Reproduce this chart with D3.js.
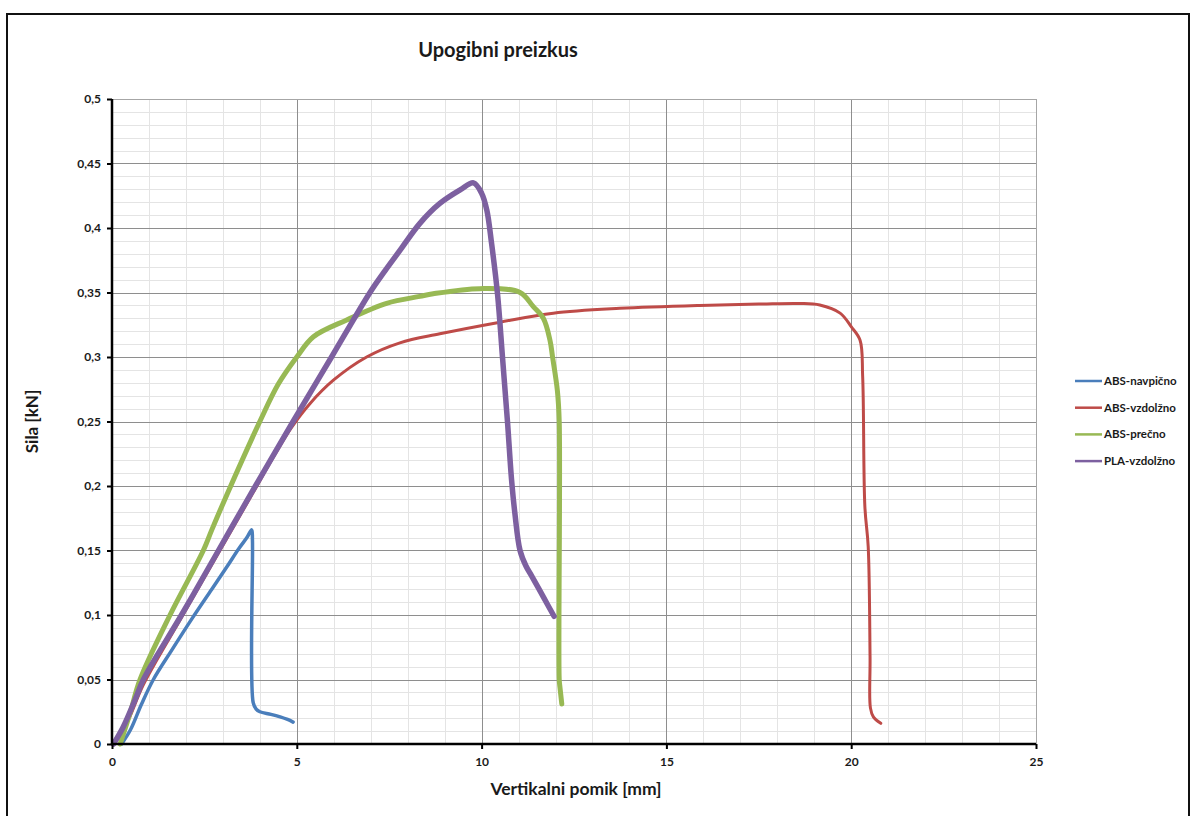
<!DOCTYPE html>
<html>
<head>
<meta charset="utf-8">
<script src="https://cdn.jsdelivr.net/npm/d3@7"></script>
<style>
	html, body { margin: 0; padding: 0; background: #fff; }
	svg text { font-family: Lato, "Open Sans", sans-serif; font-weight: bold; fill: #1a1a1a; }
</style>
</head>
<body>
<div id="chart"></div>
<script>
(function() {
	"use strict";

	// 데이터 : [pomik mm, sila kN]
	var absNavpicno = [[0.26,0],[0.5,0.011],[0.8,0.031],[1.12,0.05],[1.6,0.072],[2.16,0.097],[2.7,0.12],[3.1,0.137],
		[3.42,0.151],[3.65,0.16],[3.78,0.166],[3.8,0.158],[3.82,0.032],[3.9,0.027],[4.0,0.025],[4.3,0.023],
		[4.55,0.021],[4.75,0.019],[4.9,0.017]];
	var absVzdolzno = [[0.05,0],[0.4,0.016],[0.85,0.046],[1.88,0.098],[2.88,0.148],[3.78,0.193],[4.4,0.224],
		[4.85,0.245],[5.36,0.264],[5.99,0.282],[6.89,0.3],[7.79,0.311],[8.87,0.318],[10.5,0.327],[11.94,0.334],
		[13.74,0.3377],[15.9,0.34],[17.5,0.341],[18.6,0.3415],[19.15,0.3403],[19.7,0.334],[20.0,0.3235],
		[20.24,0.313],[20.31,0.285],[20.37,0.184],[20.46,0.153],[20.51,0.068],[20.52,0.028],[20.6,0.021],[20.8,0.016]];
	var absPrecno = [[0.22,0],[0.5,0.025],[0.76,0.05],[1.57,0.1],[2.47,0.15],[2.7,0.166],[3.15,0.196],[4.0,0.25],
		[4.5,0.279],[5.0,0.3],[5.45,0.3157],[6.35,0.3287],[7.43,0.3416],[8.33,0.347],[8.69,0.349],[9.95,0.353],
		[11.04,0.35],[11.4,0.339],[11.67,0.33],[11.85,0.313],[11.92,0.3],[12.05,0.274],[12.1,0.25],[12.1,0.05],
		[12.12,0.044],[12.17,0.031]];
	var plaVzdolzno = [[0.04,0],[0.3,0.013],[0.62,0.034],[0.85,0.05],[1.88,0.1],[2.88,0.15],[3.8,0.196],[4.9,0.25],
		[5.94,0.3],[6.98,0.35],[7.39,0.367],[7.8,0.383],[8.33,0.4036],[8.87,0.419],[9.42,0.4295],[9.78,0.435],
		[10.0,0.427],[10.14,0.414],[10.27,0.388],[10.43,0.349],[10.57,0.298],[10.7,0.25],[10.81,0.205],
		[10.9,0.179],[11.04,0.15],[11.2,0.138],[11.36,0.13],[11.67,0.114],[11.96,0.099]];

	var seriesNames = ["ABS-navpično", "ABS-vzdolžno", "ABS-prečno", "PLA-vzdolžno"];
	var seriesColors = ["#4a7ebb", "#be4b48", "#98b954", "#7d60a0"];
	var seriesWidths = [3.5, 3, 5, 5.5];
	var xTicks = [0, 5, 10, 15, 20, 25];
	var xMinor = [1,2,3,4,6,7,8,9,11,12,13,14,16,17,18,19,21,22,23,24];
	var yTicks = [0, 0.05, 0.1, 0.15, 0.2, 0.25, 0.3, 0.35, 0.4, 0.45, 0.5];

	var W = 1196, H = 816;
	var plot = { left: 112, top: 99, width: 924, height: 645 };

	var svg = d3.select("#chart").append("svg")
		.attr("width", W)
		.attr("height", H);

	// 바깥 테두리
	svg.append("rect")
		.attr("x", 7).attr("y", 14)
		.attr("width", 1182).attr("height", 830)
		.attr("fill", "none")
		.attr("stroke", "#111")
		.attr("stroke-width", 2);

	var x = d3.scaleLinear().domain([0, 25]).range([0, plot.width]);
	var y = d3.scaleLinear().domain([0, 0.5]).range([plot.height, 0]);

	var g = svg.append("g")
		.attr("transform", "translate(" + plot.left + "," + plot.top + ")");

	// minor grid
	var yMinor = d3.range(1, 50).filter(function(i){ return i % 5 !== 0; }).map(function(i){ return i / 100; });
	g.append("g").selectAll("line").data(yMinor).enter().append("line")
		.attr("x1", 0).attr("x2", plot.width)
		.attr("y1", function(d){ return Math.round(y(d)) + 0.5; })
		.attr("y2", function(d){ return Math.round(y(d)) + 0.5; })
		.attr("stroke", "#e4e4e4");
	g.append("g").selectAll("line").data(xMinor).enter().append("line")
		.attr("y1", 0).attr("y2", plot.height)
		.attr("x1", function(d){ return Math.round(x(d)) + 0.5; })
		.attr("x2", function(d){ return Math.round(x(d)) + 0.5; })
		.attr("stroke", "#e4e4e4");

	// major grid
	g.append("g").selectAll("line").data(yTicks.slice(1)).enter().append("line")
		.attr("x1", 0).attr("x2", plot.width)
		.attr("y1", function(d){ return Math.round(y(d)) + 0.5; })
		.attr("y2", function(d){ return Math.round(y(d)) + 0.5; })
		.attr("stroke", "#8e8e8e");
	g.append("g").selectAll("line").data(xTicks.slice(1)).enter().append("line")
		.attr("y1", 0).attr("y2", plot.height)
		.attr("x1", function(d){ return Math.round(x(d)) + 0.5; })
		.attr("x2", function(d){ return Math.round(x(d)) + 0.5; })
		.attr("stroke", "#8e8e8e");

	// top/right border
	g.append("rect")
		.attr("x", 0.5).attr("y", 0.5)
		.attr("width", plot.width).attr("height", plot.height)
		.attr("fill", "none")
		.attr("stroke", "#a6a6a6");

	// series
	var line = d3.line()
		.curve(d3.curveCatmullRom.alpha(0.5))
		.x(function(d){ return x(d[0]); })
		.y(function(d){ return y(d[1]); });
	var allSeries = [absNavpicno, absVzdolzno, absPrecno, plaVzdolzno];
	allSeries.forEach(function(s, i){
		g.append("path")
			.datum(s)
			.attr("d", line)
			.attr("fill", "none")
			.attr("stroke", seriesColors[i])
			.attr("stroke-width", seriesWidths[i])
			.attr("stroke-linejoin", "round")
			.attr("stroke-linecap", "round");
	});

	// axes
	var fmt = function(d){ return String(d).replace(".", ","); };
	var yAxis = g.append("g")
		.call(d3.axisLeft(y).tickValues(yTicks).tickFormat(fmt).tickSize(5).tickPadding(6));
	var xAxis = g.append("g")
		.attr("transform", "translate(0," + plot.height + ")")
		.call(d3.axisBottom(x).tickValues(xTicks).tickFormat(fmt).tickSize(5).tickPadding(8));
	[yAxis, xAxis].forEach(function(a){
		a.select(".domain").attr("stroke", "#000").attr("stroke-width", 2.5);
		a.selectAll(".tick line").attr("stroke", "#000").attr("stroke-width", 2);
		a.selectAll(".tick text").style("font-size", "12px").attr("fill", "#1a1a1a");
	});
	yAxis.select(".domain").attr("d", "M0," + plot.height + "V0");
	xAxis.select(".domain").attr("d", "M0,0H" + plot.width);

	// titles
	svg.append("text")
		.attr("x", 498).attr("y", 57)
		.attr("text-anchor", "middle")
		.style("font-size", "20px")
		.text("Upogibni preizkus");
	svg.append("text")
		.attr("x", plot.left + plot.width / 2 + 2).attr("y", 795)
		.attr("text-anchor", "middle")
		.style("font-size", "17.5px")
		.text("Vertikalni pomik [mm]");
	svg.append("text")
		.attr("transform", "translate(38," + (plot.top + plot.height / 2) + ") rotate(-90)")
		.attr("text-anchor", "middle")
		.style("font-size", "17px")
		.text("Sila [kN]");

	// legend
	var legend = svg.append("g").attr("transform", "translate(1075,381)");
	var item = legend.selectAll("g").data(seriesNames).enter().append("g")
		.attr("transform", function(d, i){ return "translate(0," + (i * 26.7) + ")"; });
	item.append("line")
		.attr("x1", 0).attr("x2", 27)
		.attr("stroke", function(d, i){ return seriesColors[i]; })
		.attr("stroke-width", 2.5);
	item.append("text")
		.attr("x", 29).attr("y", 4)
		.style("font-size", "11.5px")
		.text(function(d){ return d; });
})();
</script>
</body>
</html>
